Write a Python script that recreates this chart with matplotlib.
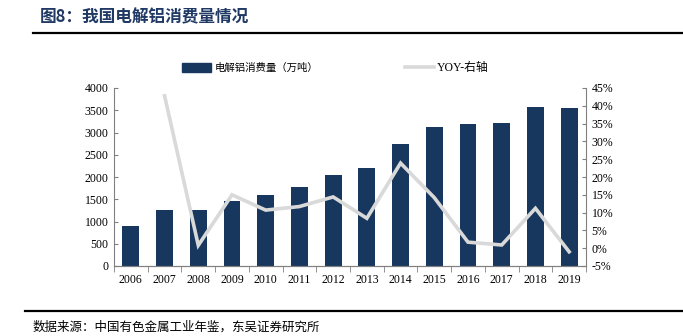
import matplotlib
matplotlib.use("Agg")
from matplotlib import pyplot as plt
from matplotlib.lines import Line2D
from matplotlib.patches import Patch
from matplotlib.ticker import FuncFormatter, FixedLocator
import numpy as np

years = ['2006', '2007', '2008', '2009', '2010', '2011', '2012',
         '2013', '2014', '2015', '2016', '2017', '2018', '2019']
consumption = [890, 1250, 1260, 1450, 1605, 1785, 2040,
               2212, 2738, 3120, 3180, 3203, 3570, 3540]
yoy_years = years[1:]
yoy = [42.8, 0.8, 15.0, 10.7, 11.7, 14.4, 8.4, 23.9, 14.2, 1.7, 0.9, 11.2, -1.0]

navy = '#17375e'
grey = '#d9d9d9'
serif = ['Liberation Serif', 'DejaVu Serif']
cjk = ['Noto Sans CJK SC', 'DejaVu Sans']

fig = plt.figure(figsize=(6.83, 3.36), dpi=100)
ax = fig.add_axes([114 / 683, 1 - 266 / 336, (586 - 114) / 683, (266 - 88) / 336])
ax2 = ax.twinx()

x = np.arange(len(years))
ax.bar(x, consumption, width=0.5, color=navy, zorder=2)
ax2.plot(x[1:], yoy, color=grey, lw=2.6, solid_joinstyle='miter', zorder=3)

ax.set_xlim(-0.5, len(years) - 0.5)
ax.set_ylim(0, 4000)
ax.set_yticks(range(0, 4001, 500))
ax2.set_ylim(-5, 45)
ax2.set_yticks(range(-5, 46, 5))
ax2.yaxis.set_major_formatter(FuncFormatter(lambda v, p: '{:.0f}%'.format(v)))

# year labels centred on bars, tick marks between categories
ax.set_xticks(x)
ax.set_xticklabels(years)
ax.tick_params(axis='x', which='major', length=0, pad=6)
ax.xaxis.set_minor_locator(FixedLocator(np.arange(-0.5, len(years), 1.0)))
ax.tick_params(axis='x', which='minor', length=4, direction='out', color='#808080')
ax.tick_params(axis='y', length=3, direction='in', color='#808080', pad=4)
ax2.tick_params(axis='y', length=3, direction='in', color='#808080', pad=4)

for a in (ax, ax2):
    a.spines['top'].set_visible(False)
    for s in ('left', 'right', 'bottom'):
        a.spines[s].set_color('#808080')
        a.spines[s].set_linewidth(0.8)
    for lab in a.get_xticklabels() + a.get_yticklabels():
        lab.set_family(serif)
        lab.set_fontsize(8.5)
ax2.spines['left'].set_visible(False)
ax.spines['right'].set_visible(False)

# legend
handles = [Patch(facecolor=navy, edgecolor=navy),
           Line2D([], [], color=grey, lw=2.6)]
labels = ['电解铝消费量（万吨）', 'YOY-右轴']
leg = fig.legend(handles, labels, loc='center', bbox_to_anchor=(0.491, 1 - 68 / 336),
                 ncol=2, frameon=False, prop={'family': cjk, 'size': 7.5},
                 handlelength=2.8, handleheight=0.9, handletextpad=0.3, columnspacing=8.3)
leg.get_texts()[1].set_family(['Liberation Serif', 'Noto Sans CJK SC'])
leg.get_texts()[1].set_fontsize(8.5)

# title and rules
fig.text(40 / 683, 1 - 17 / 336, '图8：我国电解铝消费量情况', family=cjk,
         fontsize=12, fontweight='bold', color='#1f3864', va='center')
fig.add_artist(Line2D([33 / 683, 1], [1 - 33 / 336] * 2, color='black', lw=1.6))
fig.add_artist(Line2D([25 / 683, 1], [1 - 311 / 336] * 2, color='black', lw=1.6))
fig.text(33 / 683, 1 - 321 / 336, '数据来源：中国有色金属工业年鉴，东吴证券研究所',
         family=cjk, fontsize=9, color='black', va='top')

fig.savefig('out.png', dpi=100)
